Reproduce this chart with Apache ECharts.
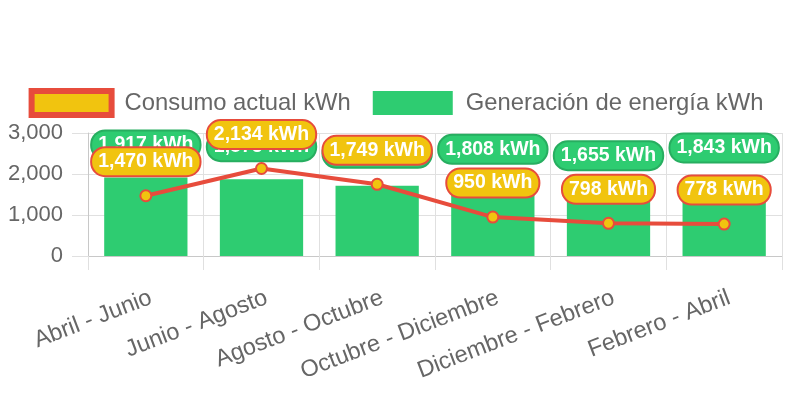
<!DOCTYPE html>
<html>
<head>
<meta charset="utf-8">
<script src="https://cdn.jsdelivr.net/npm/echarts@6/dist/echarts.min.js"></script>
<style>
html,body{margin:0;padding:0;background:#fff;}
#c{width:792px;height:396px;}
</style>
</head>
<body>
<div id="c"></div>
<script>
const categories = ['Abril - Junio', 'Junio - Agosto', 'Agosto - Octubre', 'Octubre - Diciembre', 'Diciembre - Febrero', 'Febrero - Abril'];
const consumo = [1470, 2134, 1749, 950, 798, 778];
const generacion = [1917, 1875, 1712, 1808, 1655, 1843];
const yTicks = [0, 1000, 2000, 3000];
const seriesNames = ['Consumo actual kWh', 'Generación de energía kWh'];

const FONT = '"Liberation Sans", Arial, Helvetica, sans-serif';
const fmt = v => v.toLocaleString('en-US');
const chart = echarts.init(document.getElementById('c'), null, {renderer: 'canvas'});
chart.setOption({
  animation: false,
  textStyle: {fontFamily: FONT},
  legend: {
    top: 88,
    left: 'center',
    padding: 0,
    itemGap: 22,
    itemWidth: 80,
    itemHeight: 24,
    textStyle: {fontSize: 23.8, color: '#666', fontFamily: FONT, padding: [0, 0, 0, 8]},
    data: [
      {name: seriesNames[0], icon: 'rect', itemStyle: {color: '#f1c40f', borderColor: '#e74c3c', borderWidth: 6}},
      {name: seriesNames[1], icon: 'rect', itemStyle: {color: '#2ecc71', borderColor: '#2ecc71', borderWidth: 0}}
    ]
  },
  grid: {left: 88, right: 10, top: 133, bottom: 140, containLabel: false},
  xAxis: {
    type: 'category',
    data: categories,
    axisLine: {show: true, lineStyle: {color: '#c8c8c8', width: 1}},
    axisTick: {show: true, length: 14, lineStyle: {color: '#e0e0e0'}},
    splitLine: {show: true, lineStyle: {color: '#e0e0e0'}},
    axisLabel: {rotate: 21, fontSize: 23.5, color: '#666', fontFamily: FONT, margin: 43, interval: 0, padding: [0, -5.5, 0, 0]}
  },
  yAxis: {
    type: 'value',
    min: yTicks[0],
    max: yTicks[yTicks.length - 1],
    interval: 1000,
    axisLine: {show: true, lineStyle: {color: '#c8c8c8', width: 1}},
    axisTick: {show: true, length: 16, lineStyle: {color: '#e0e0e0'}},
    splitLine: {show: true, lineStyle: {color: '#e0e0e0'}},
    axisLabel: {fontSize: 22, color: '#666', fontFamily: FONT, margin: 25, formatter: v => fmt(v)}
  },
  series: [
    {
      name: seriesNames[1],
      type: 'bar',
      z: 2,
      data: generacion,
      barWidth: '72%',
      itemStyle: {color: '#2ecc71'},
      label: {
        show: true,
        position: 'top',
        distance: 19,
        formatter: p => fmt(p.value) + ' kWh',
        color: '#fff',
        fontWeight: 'bold',
        fontSize: 19.5,
        fontFamily: FONT,
        lineHeight: 21,
        backgroundColor: '#2ecc71',
        borderColor: '#27ae60',
        borderWidth: 2,
        borderRadius: 13,
        padding: [3, 6]
      }
    },
    {
      name: seriesNames[0],
      type: 'line',
      z: 3,
      data: consumo,
      symbol: 'circle',
      symbolSize: 11,
      lineStyle: {color: '#e74c3c', width: 4},
      itemStyle: {color: '#f1c40f', borderColor: '#e74c3c', borderWidth: 2},
      label: {
        show: true,
        position: 'top',
        distance: 14,
        formatter: p => fmt(p.value) + ' kWh',
        color: '#fff',
        fontWeight: 'bold',
        fontSize: 19.5,
        fontFamily: FONT,
        lineHeight: 21,
        backgroundColor: '#f1c40f',
        borderColor: '#e74c3c',
        borderWidth: 2,
        borderRadius: 13,
        padding: [3, 6]
      }
    }
  ]
});
</script>
</body>
</html>
